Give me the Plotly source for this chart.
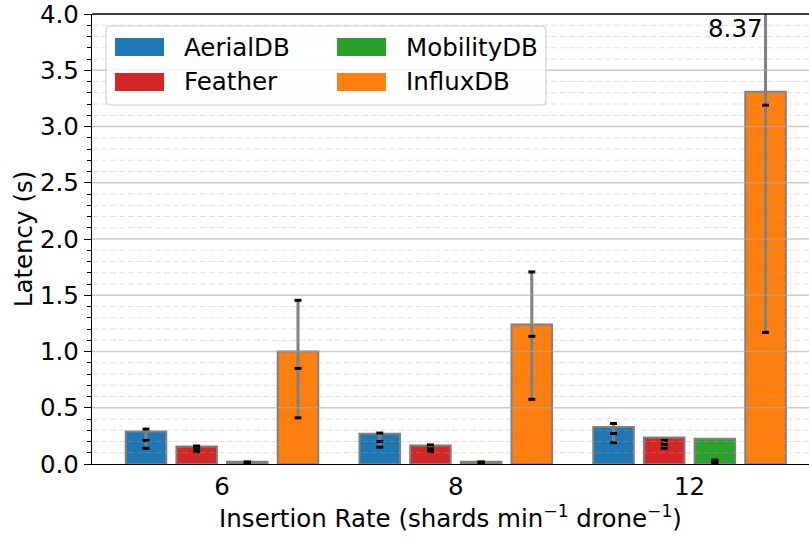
import numpy as np
import plotly.graph_objects as go

# ---------------- data ----------------
categories = ["6", "8", "12"]
series_names = ["AerialDB", "Feather", "MobilityDB", "InfluxDB"]
series_colors = ["#1f77b4", "#d62728", "#2ca02c", "#ff7f0e"]

aerialdb_mean = [0.29, 0.27, 0.33]
aerialdb_min = [0.14, 0.15, 0.19]
aerialdb_mid = [0.21, 0.20, 0.27]
aerialdb_max = [0.31, 0.275, 0.36]

feather_mean = [0.155, 0.165, 0.235]
feather_min = [0.11, 0.11, 0.14]
feather_mid = [0.135, 0.135, 0.175]
feather_max = [0.16, 0.17, 0.21]

mobilitydb_mean = [0.02, 0.02, 0.225]
mobilitydb_min = [0.012, 0.012, 0.01]
mobilitydb_mid = [0.015, 0.015, 0.02]
mobilitydb_max = [0.018, 0.018, 0.035]

influxdb_mean = [1.00, 1.24, 3.31]
influxdb_min = [0.41, 0.575, 1.17]
influxdb_mid = [0.85, 1.135, 3.19]
influxdb_max = [1.455, 1.707, 8.37]

y_ticks = [0.0, 0.5, 1.0, 1.5, 2.0, 2.5, 3.0, 3.5, 4.0]
Y_MAX = 4.0

means = [aerialdb_mean, feather_mean, mobilitydb_mean, influxdb_mean]
mins = [aerialdb_min, feather_min, mobilitydb_min, influxdb_min]
mids = [aerialdb_mid, feather_mid, mobilitydb_mid, influxdb_mid]
maxs = [aerialdb_max, feather_max, mobilitydb_max, influxdb_max]

# ---------------- layout constants ----------------
W, H = 809, 544
ML, MR, MT, MB = 92, 0, 14, 80
PW, PH = W - ML - MR, H - MT - MB
FONT = "DejaVu Sans"
FS = 24.5
BARGAP = 0.133
EDGE = "#808080"


def fx(px):
    return (px - ML) / PW


def fy(py):
    return (H - MB - py) / PH


fig = go.Figure()

for name, color, m, lo, hi in zip(series_names, series_colors, means, mins, maxs):
    m = np.array(m)
    lo = np.array(lo)
    hi = np.array(hi)
    fig.add_bar(
        x=categories, y=m, name=name, offsetgroup=name, showlegend=False,
        marker=dict(color=color, line=dict(color=EDGE, width=2)),
        error_y=dict(type="data", symmetric=False, array=hi - m, arrayminus=m - lo,
                     color=EDGE, thickness=3, width=0),
    )

for name, lo, md, hi in zip(series_names, mins, mids, maxs):
    fig.add_scatter(
        x=categories * 3, y=list(lo) + list(md) + list(hi), mode="markers",
        offsetgroup=name, showlegend=False, cliponaxis=True,
        marker=dict(symbol="line-ew", size=5, color="black",
                    line=dict(color="black", width=3)),
    )

# gridlines drawn above bars (as in reference)
for v in np.round(np.arange(0.1, Y_MAX, 0.1), 1):
    major = abs(v * 2 - round(v * 2)) < 1e-9
    fig.add_shape(
        type="line", xref="x domain", x0=0, x1=1, yref="y", y0=v, y1=v, layer="above",
        line=dict(color="rgba(170,170,170,0.6)" if major else "rgba(170,170,170,0.35)",
                  width=1.3 if major else 1, dash="solid" if major else "6px,3px"),
    )

# top spine
fig.add_shape(type="line", xref="paper", yref="paper", x0=0, x1=1, y0=1, y1=1,
              layer="above", line=dict(color="black", width=1.3))

# manual legend
lx0, lx1, ly0, ly1, r = 106, 546, 26, 105, 4
path = (f"M {fx(lx0 + r)},{fy(ly0)} L {fx(lx1 - r)},{fy(ly0)} "
        f"Q {fx(lx1)},{fy(ly0)} {fx(lx1)},{fy(ly0 + r)} L {fx(lx1)},{fy(ly1 - r)} "
        f"Q {fx(lx1)},{fy(ly1)} {fx(lx1 - r)},{fy(ly1)} L {fx(lx0 + r)},{fy(ly1)} "
        f"Q {fx(lx0)},{fy(ly1)} {fx(lx0)},{fy(ly1 - r)} L {fx(lx0)},{fy(ly0 + r)} "
        f"Q {fx(lx0)},{fy(ly0)} {fx(lx0 + r)},{fy(ly0)} Z")
fig.add_shape(type="path", path=path, xref="paper", yref="paper", layer="above",
              fillcolor="rgba(255,255,255,0.8)", line=dict(color="#cccccc", width=1))

col_x = [115, 337]
row_y = [47, 82]
for i, (name, color) in enumerate(zip(series_names, series_colors)):
    col, row = divmod(i, 2)
    px, py = col_x[col], row_y[row]
    fig.add_shape(type="rect", xref="paper", yref="paper", layer="above",
                  x0=fx(px), x1=fx(px + 49), y0=fy(py - 9), y1=fy(py + 9),
                  fillcolor=color, line=dict(width=0))
    fig.add_annotation(x=fx(px + 67), y=fy(py), xref="paper", yref="paper",
                       text=name, showarrow=False, xanchor="left", yanchor="middle",
                       font=dict(family=FONT, size=FS, color="black"))

# annotation for the clipped whisker
n = len(series_names)
slot = (1 - BARGAP) / n
off = -(1 - BARGAP) / 2 + slot * (n - 0.5)
fig.add_annotation(x=2 + off, y=Y_MAX, xref="x", yref="y", text=f"{influxdb_max[2]:.2f}",
                   showarrow=False, xanchor="right", yanchor="top", xshift=-1, yshift=2,
                   font=dict(family=FONT, size=FS, color="black"))

fig.update_layout(
    width=W, height=H, margin=dict(l=ML, r=MR, t=MT, b=MB, autoexpand=False),
    plot_bgcolor="white", paper_bgcolor="white",
    barmode="group", bargap=BARGAP, bargroupgap=0.2,
    scattermode="group", scattergap=BARGAP,
    font=dict(family=FONT, size=FS, color="black"),
    showlegend=False,
)
fig.update_xaxes(
    type="category", range=[-0.556, 2.511], showgrid=False, automargin=False,
    showline=True, linecolor="black", linewidth=1.3, mirror=False,
    ticks="", tickfont=dict(size=FS),
    title=dict(text="Insertion Rate (shards min<sup>−1</sup> drone<sup>−1</sup>)",
               font=dict(size=FS), standoff=4),
)
fig.update_yaxes(
    range=[0, Y_MAX], tickvals=y_ticks, ticktext=[f"{t:.1f}" for t in y_ticks],
    showgrid=False, zeroline=False, automargin=False, ticklabeloverflow="allow",
    showline=True, linecolor="black", linewidth=1.3,
    ticks="outside", ticklen=7, tickwidth=1.3, tickcolor="black",
    minor=dict(dtick=0.1, ticks="outside", ticklen=4, tickwidth=1, tickcolor="black", showgrid=False),
    tickfont=dict(size=FS),
    title=dict(text="Latency (s)", font=dict(size=FS), standoff=0),
)

fig.write_html("out.html", config={"displayModeBar": False},
               post_script="document.body.style.margin='0';")
